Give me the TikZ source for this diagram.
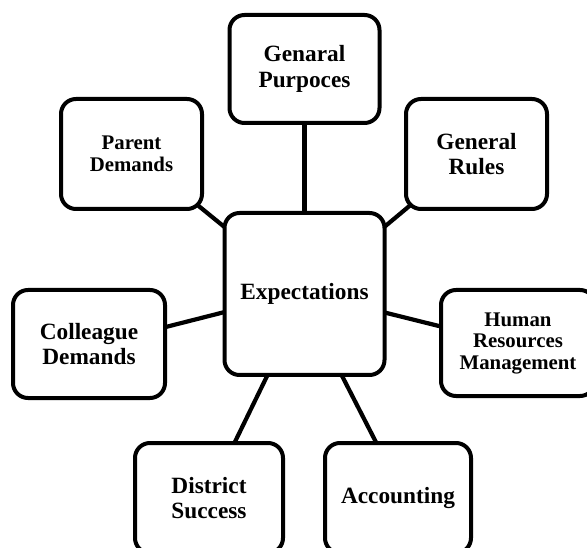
\documentclass[tikz,border=0pt]{standalone}
\usepackage{fontspec}
\setmainfont{Liberation Serif}
\usetikzlibrary{calc,backgrounds}
\tikzset{
  box/.style={draw=black, line width=4pt, rounded corners=15pt, fill=white,
    align=center, inner sep=0pt, outer sep=0pt, font=\fontsize{23.3}{25.5}\selectfont\bfseries},
  smallbox/.style={box, font=\fontsize{20.8}{21.5}\selectfont\bfseries},
  link/.style={draw=black, line width=4.2pt}
}
\begin{document}
\begin{tikzpicture}[x=1pt,y=1pt]
\useasboundingbox (0,0) rectangle (587,-548);
\node[box, minimum width=150pt, minimum height=108pt] (gp) at (304.5,-69) {Genaral\\Purpoces};
\node[smallbox, minimum width=141pt, minimum height=110pt] (parent) at (131.5,-154) {Parent\\Demands};
\node[box, minimum width=141pt, minimum height=110pt] (gr) at (476.5,-154) {General\\Rules};
\node[box, minimum width=160pt, minimum height=162pt] (exp) at (304.5,-294) {Expectations};
\node[box, minimum width=152pt, minimum height=108pt] (coll) at (89,-344) {Colleague\\Demands};
\node[smallbox, minimum width=154pt, minimum height=106pt] (hrm) at (518,-343) {Human\\Resources\\Management};
\node[box, minimum width=148pt, minimum height=110pt] (dist) at (209,-498) {District\\Success};
\node[box, minimum width=146pt, minimum height=110pt] (acc) at (398,-498) {Accounting};
\begin{pgfonlayer}{background}
\draw[link] (gp.south) -- (exp.north);
\draw[link] ($(parent.south east)+(-7,6)$) -- ($(exp.north west)+(11,-23)$);
\draw[link] ($(gr.south west)+(7,6)$) -- ($(exp.north east)+(-11,-23)$);
\draw[link] ($(coll.east)+(-15,13)$) -- ($(exp.west)+(16,-14)$);
\draw[link] ($(hrm.west)+(14,13)$) -- ($(exp.east)+(-14,-15)$);
\draw[link] ($(exp.south)+(-34,6)$) -- ($(dist.north)+(22,-7)$);
\draw[link] ($(exp.south)+(34,6)$) -- ($(acc.north)+(-18,-7)$);
\end{pgfonlayer}
\end{tikzpicture}
\end{document}
